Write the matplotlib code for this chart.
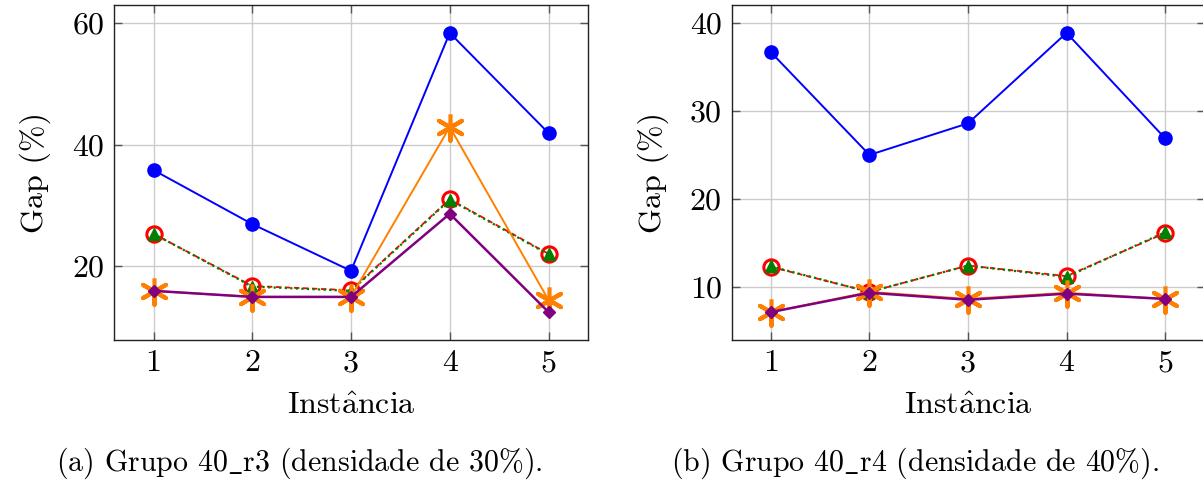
import matplotlib
matplotlib.use("Agg")
import matplotlib.pyplot as plt

plt.rcParams['font.family'] = ['cmr10', 'DejaVu Serif']
plt.rcParams['mathtext.fontset'] = 'cm'
plt.rcParams['axes.unicode_minus'] = False

instancias = [1, 2, 3, 4, 5]

# Grupo 40_r3
a_azul = [35.8, 26.9, 19.2, 58.4, 41.9]
a_vermelho = [25.3, 16.7, 16.0, 31.0, 22.0]
a_verde = [25.3, 16.6, 15.9, 30.9, 21.9]
a_laranja = [15.9, 14.9, 14.9, 42.9, 14.4]
a_roxo = [15.9, 14.9, 14.9, 28.6, 12.4]

# Grupo 40_r4
b_azul = [36.7, 25.0, 28.6, 38.9, 26.9]
b_vermelho = [12.25, 9.4, 12.4, 11.2, 16.1]
b_verde = [12.3, 9.4, 12.4, 11.1, 16.2]
b_laranja = [7.1, 9.4, 8.6, 9.3, 8.6]
b_roxo = [7.1, 9.3, 8.5, 9.2, 8.6]

a_yticks = [20, 40, 60]
b_yticks = [10, 20, 30, 40]
xlabel = r"Inst$\hat{\mathrm{a}}$ncia"
ylabel = "Gap (%)"
captions = [r"(a) Grupo 40$\_$r3 (densidade de 30%).",
            r"(b) Grupo 40$\_$r4 (densidade de 40%)."]

FS = 23
FSC = 21.5
star = [(0, 1), (0, 0), (0.866, 0.5), (0, 0), (0.866, -0.5), (0, 0),
        (0, -1), (0, 0), (-0.866, -0.5), (0, 0), (-0.866, 0.5), (0, 0)]

fig = plt.figure(figsize=(12.03, 4.84), dpi=100)
ax1 = fig.add_axes([114/1203, 1-340/484, 474/1203, 335/484])
ax2 = fig.add_axes([731.5/1203, 1-340/484, 473/1203, 335/484])


def draw(ax, az, vm, vd, lj, rx, yticks):
    ax.plot(instancias, az, color='#0000ff', lw=1.4, marker='o', ms=9.5,
            mfc='#0000ff', mec='#0000ff', zorder=3)
    ax.plot(instancias, vm, color='#ff0000', lw=1.3, ls=(0, (3, 2)),
            marker='o', ms=11, mfc='none', mec='#ff0000', mew=2.2, zorder=4)
    ax.plot(instancias, vd, color='#008000', lw=1.6, ls=(0, (1, 1.5)),
            marker='^', ms=8, mfc='#008000', mec='#008000', zorder=5)
    ax.plot(instancias, lj, color='#ff8000', lw=1.4, marker=star, ms=19,
            mfc='none', mec='#ff8000', mew=3, zorder=6)
    ax.plot(instancias, rx, color='#800080', lw=1.8, marker='D', ms=6.5,
            mfc='#800080', mec='#800080', zorder=7)
    lo = min(min(az), min(vm), min(vd), min(lj), min(rx))
    hi = max(max(az), max(vm), max(vd), max(lj), max(rx))
    pad = 0.1 * (hi - lo)
    ax.set_ylim(lo - pad, hi + pad)
    ax.set_xlim(0.6, 5.4)
    ax.set_xticks(instancias)
    ax.set_yticks(yticks)
    ax.grid(True, color='#cccccc', lw=1.0)
    ax.set_axisbelow(True)
    ax.tick_params(direction='in', length=6, width=1, color='#555555',
                   top=True, right=True, labelsize=FS, pad=7)
    for s in ax.spines.values():
        s.set_color('#222222')
        s.set_linewidth(1.0)
    ax.set_xlabel(xlabel, fontsize=FS, labelpad=11)
    ax.set_ylabel(ylabel, fontsize=FS, labelpad=15)


draw(ax1, a_azul, a_vermelho, a_verde, a_laranja, a_roxo, a_yticks)
draw(ax2, b_azul, b_vermelho, b_verde, b_laranja, b_roxo, b_yticks)

fig.text(299/1203, 1-463/484, captions[0], fontsize=FSC, ha='center', va='center')
fig.text(915/1203, 1-463/484, captions[1], fontsize=FSC, ha='center', va='center')

fig.savefig('out.png', dpi=100)
